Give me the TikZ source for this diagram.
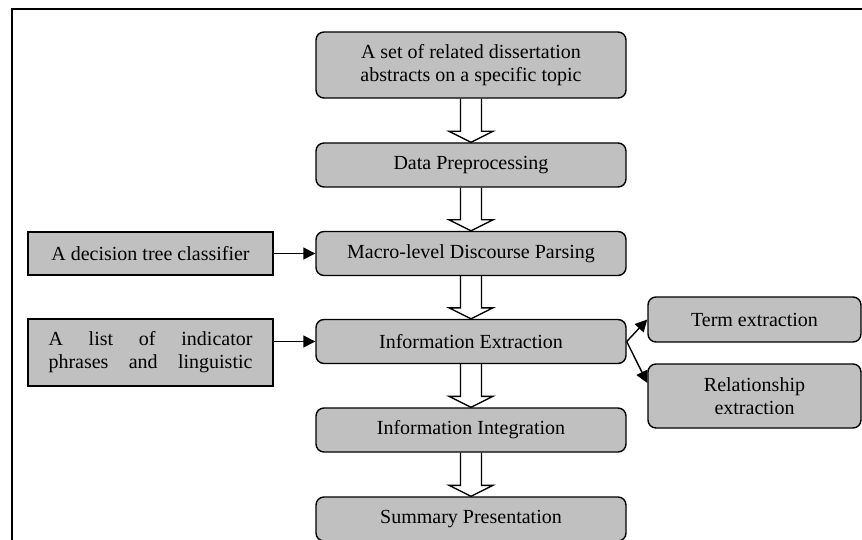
\documentclass[tikz,border=0pt]{standalone}
\usepackage{fontspec}
\setmainfont{Liberation Serif}
\usetikzlibrary{arrows.meta}

\definecolor{boxgray}{HTML}{C0C0C0}

% open block arrow from the bottom of #1 down to the top of #2
\newcommand\hollowdown[2]{%
  \draw[hollow] ([xshift=-10.5pt]#1.south) -- ([xshift=-10.5pt,yshift=11pt]#2.north)
    -- ([xshift=-22pt,yshift=11pt]#2.north) -- (#2.north)
    -- ([xshift=22pt,yshift=11pt]#2.north) -- ([xshift=10.5pt,yshift=11pt]#2.north)
    -- ([xshift=10.5pt]#1.south);}

\begin{document}
\begin{tikzpicture}[x=1pt, y=-1pt,
  font=\fontsize{20pt}{23pt}\selectfont,
  stage/.style={draw, line width=1.4pt, fill=boxgray, rounded corners=8pt,
    minimum width=310pt, minimum height=44pt, inner sep=0pt, align=center},
  source/.style={draw, line width=1.4pt, fill=boxgray, minimum width=245pt, inner sep=0pt},
  feed/.style={line width=1.4pt, -{Triangle[length=12pt,width=12pt]}},
  hollow/.style={line width=1.4pt, line join=miter}]
  \useasboundingbox (0,0) rectangle (862,540);

  % Outer frame (only top and left edges show)
  \draw[line width=2pt] (12,545) -- (12,9) -- (870,9);

  % Main pipeline
  \node[stage, minimum height=66pt] (topic) at (471,65) {A set of related dissertation\\abstracts on a specific topic};
  \node[stage] (prep) at (471,165) {Data Preprocessing};
  \node[stage] (macro) at (471,253.5) {Macro-level Discourse Parsing};
  \node[stage] (info) at (471,341.5) {Information Extraction};
  \node[stage] (integ) at (471,430) {Information Integration};
  \node[stage] (summ) at (471,519) {Summary Presentation};

  \foreach \a/\b in {topic/prep, prep/macro, macro/info, info/integ, integ/summ}
    \hollowdown{\a}{\b};

  % Resources on the left
  \node[source, minimum height=43pt] (dtree) at (150.5,253.5) {A decision tree classifier};
  \node[source, minimum height=67pt, text width=204pt, align=left] (cues) at (150.5,352.5)
    {A\hfill list\hfill of\hfill indicator\\phrases\hfill and\hfill linguistic};
  \draw[feed] (dtree.east) -- (macro.west);
  \draw[feed] (cues.east |- info.west) -- (info.west);

  % Extraction outputs on the right
  \node[stage, minimum width=213pt, minimum height=45pt] (term) at (754.5,319.5) {Term extraction};
  \node[stage, minimum width=213pt, minimum height=64pt] (rel) at (754.5,396) {Relationship\\extraction};
  \draw[feed] (info.east) -- (term.west);
  \draw[feed] (info.east) -- ([yshift=13pt]rel.west);
\end{tikzpicture}
\end{document}
